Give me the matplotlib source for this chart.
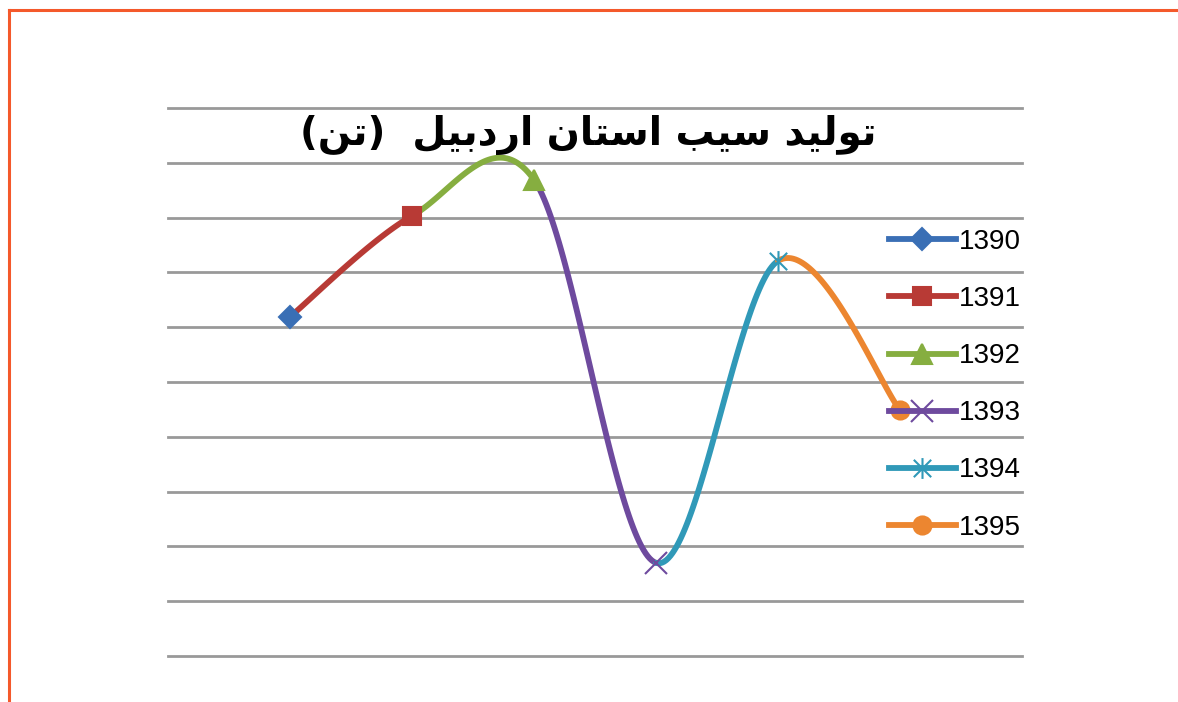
import numpy as np
import matplotlib
matplotlib.use('Agg')
import matplotlib.pyplot as plt
from matplotlib.path import Path
from matplotlib.lines import Line2D

# داده ها
years = ['1390', '1391', '1392', '1393', '1394', '1395']
production = [6.19, 8.03, 8.69, 1.70, 7.21, 4.49]
colors = ['#3A6FB5', '#B83A35', '#86AE40', '#6E4A9E', '#3099B8', '#EC8630']

# عنوان: تولید سیب استان اردبیل (تن) - presentation forms, visual order
title_text = ('(\uFEE6\uFE97)  '
              '\uFEDE\uFEF4\uFE91\uFEA9\uFEAD\uFE8D '
              '\uFEE5\uFE8E\uFE98\uFEB3\uFE8D '
              '\uFE90\uFEF4\uFEB3 '
              '\uFEAA\uFEF4\uFEDF\uFEEE\uFE97')

star_path = Path([(-1, -1), (1, 1), (-1, 1), (1, -1), (0, -1.2), (0, 1.2)],
                 [Path.MOVETO, Path.LINETO, Path.MOVETO, Path.LINETO, Path.MOVETO, Path.LINETO])
markers = ['D', 's', '^', 'x', star_path, 'o']
msizes = [11, 13, 14, 16, 15, 13]


def smooth_segments(x, y, n=60):
    # excel like catmull-rom smoothing
    pts = np.column_stack([x, y]).astype(float)
    ext = np.vstack([pts[0], pts, pts[-1]])
    segs = []
    t = np.linspace(0, 1, n)[:, None]
    for i in range(len(pts) - 1):
        p0, p1, p2, p3 = ext[i], ext[i + 1], ext[i + 2], ext[i + 3]
        c1 = p1 + (p2 - p0) / 6
        c2 = p2 - (p3 - p1) / 6
        b = ((1 - t) ** 3) * p1 + 3 * ((1 - t) ** 2) * t * c1 + 3 * (1 - t) * t ** 2 * c2 + t ** 3 * p2
        segs.append(b)
    return segs


fig = plt.figure(figsize=(11.78, 7.02), dpi=100)
ax = fig.add_axes([168 / 1178, 46 / 702, 854 / 1178, 548 / 702])

x = np.arange(1, len(years) + 1)
segs = smooth_segments(x, production)
for i, s in enumerate(segs):
    ax.plot(s[:, 0], s[:, 1], color=colors[i + 1], lw=4.2, solid_capstyle='round', zorder=3)

for i in range(len(years)):
    ax.plot(x[i], production[i], marker=markers[i], ms=msizes[i], color=colors[i],
            mec=colors[i], mew=1.5, zorder=4, linestyle='none')

ax.set_xlim(0, 7)
ax.set_ylim(0, 10)
for yv in range(0, 11):
    ax.axhline(yv, color='#999999', lw=2, clip_on=False, zorder=1)
ax.set_xticks([])
ax.set_yticks([])
for sp in ax.spines.values():
    sp.set_visible(False)

handles = [Line2D([0], [0], color=colors[i], lw=4.2, marker=markers[i], ms=msizes[i],
                  mec=colors[i], mew=1.5) for i in range(len(years))]
leg = ax.legend(handles, years, loc='upper left', bbox_to_anchor=(864 / 1178, (702 - 204) / 702),
                bbox_transform=fig.transFigure, frameon=False,
                handlelength=2.4, labelspacing=1.12, handletextpad=0.1,
                prop={'family': 'Liberation Sans', 'size': 20})

fig.text(588 / 1178, (702 - 135) / 702, title_text, ha='center', va='center',
         fontsize=28, fontweight='bold', family='DejaVu Sans', color='black')

# orange border
fig.add_artist(Line2D([9 / 1178, 1], [1 - 10 / 702, 1 - 10 / 702], color='#F4592B', lw=2.2))
fig.add_artist(Line2D([9 / 1178, 9 / 1178], [0, 1 - 10 / 702], color='#F4592B', lw=2.2))

fig.savefig('out.png', dpi=100)
